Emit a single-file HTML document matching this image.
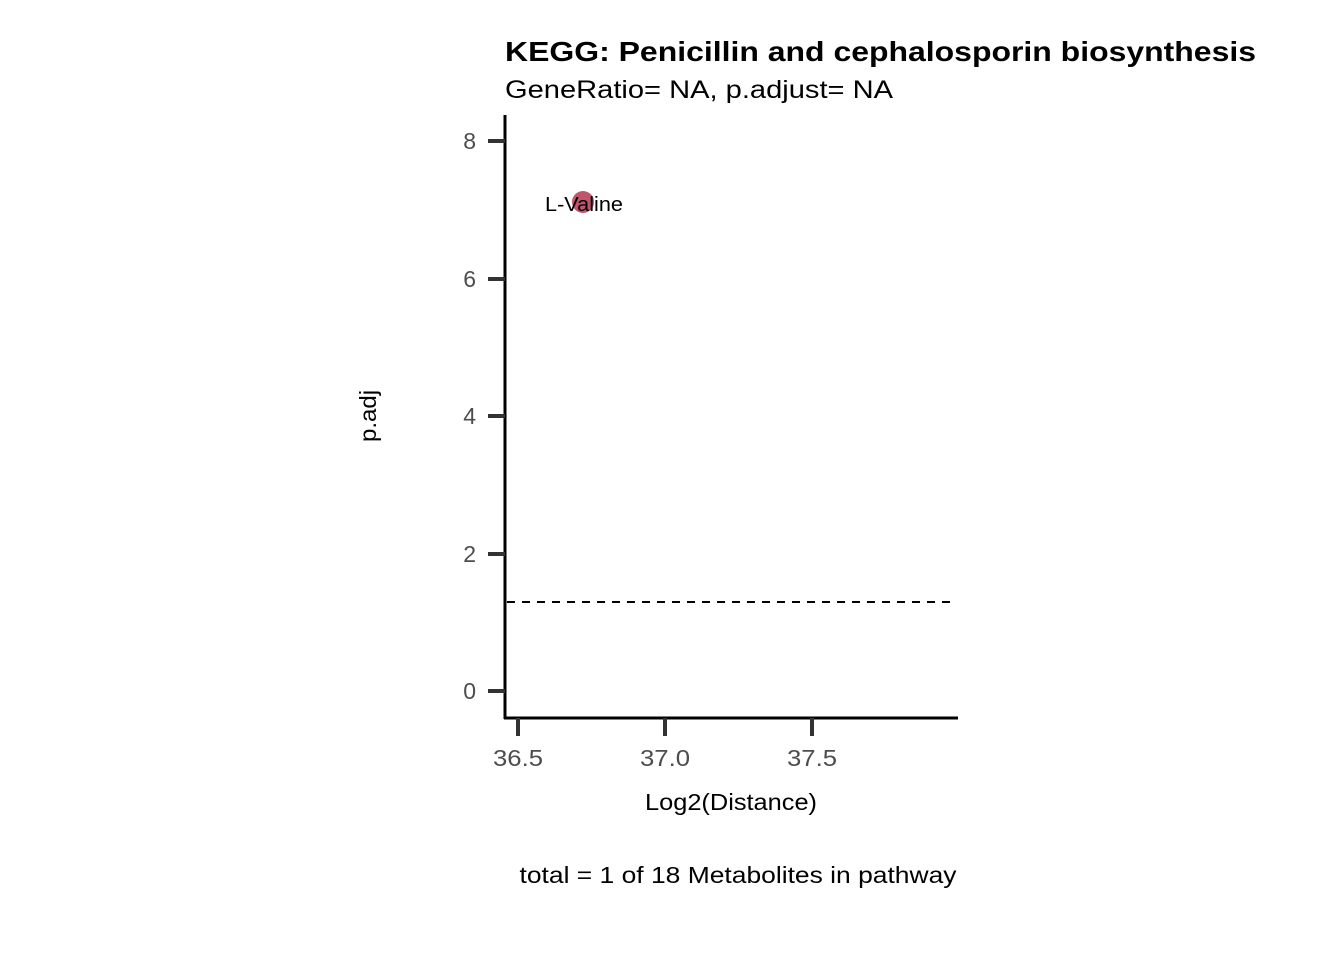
<!DOCTYPE html>
<html><head><meta charset="utf-8"><style>
html,body{margin:0;padding:0;background:#fff;}
svg{display:block;font-family:"Liberation Sans",Arial,sans-serif;}
</style></head><body>
<svg width="1344" height="960" viewBox="0 0 1344 960" xmlns="http://www.w3.org/2000/svg">
<rect width="1344" height="960" fill="#fff"/>
<text x="505" y="61" font-size="28" font-weight="bold" fill="#000" textLength="751" lengthAdjust="spacingAndGlyphs">KEGG: Penicillin and cephalosporin biosynthesis</text>
<text x="505" y="98" font-size="25" fill="#000" textLength="388" lengthAdjust="spacingAndGlyphs">GeneRatio= NA, p.adjust= NA</text>
<line x1="505" y1="115" x2="505" y2="719" stroke="#000" stroke-width="3"/>
<line x1="504" y1="718" x2="958" y2="718" stroke="#000" stroke-width="3"/>
<g stroke="#333" stroke-width="4">
<line x1="488" y1="141" x2="505" y2="141"/>
<line x1="488" y1="279" x2="505" y2="279"/>
<line x1="488" y1="416" x2="505" y2="416"/>
<line x1="488" y1="554" x2="505" y2="554"/>
<line x1="488" y1="691" x2="505" y2="691"/>
<line x1="518" y1="718" x2="518" y2="736"/>
<line x1="665" y1="718" x2="665" y2="736"/>
<line x1="812" y1="718" x2="812" y2="736"/>
</g>
<g font-size="23" fill="#4d4d4d" text-anchor="end">
<text x="476" y="149">8</text>
<text x="476" y="287">6</text>
<text x="476" y="424">4</text>
<text x="476" y="562">2</text>
<text x="476" y="699">0</text>
</g>
<g font-size="23" fill="#4d4d4d" text-anchor="middle">
<text x="518" y="766" textLength="50" lengthAdjust="spacingAndGlyphs">36.5</text>
<text x="665" y="766" textLength="50" lengthAdjust="spacingAndGlyphs">37.0</text>
<text x="812" y="766" textLength="50" lengthAdjust="spacingAndGlyphs">37.5</text>
</g>
<text x="731" y="810" font-size="23" text-anchor="middle" fill="#000" textLength="172" lengthAdjust="spacingAndGlyphs">Log2(Distance)</text>
<text transform="translate(376,416) rotate(-90)" font-size="23" text-anchor="middle" fill="#000" textLength="52" lengthAdjust="spacingAndGlyphs">p.adj</text>
<line x1="507" y1="602" x2="950" y2="602" stroke="#000" stroke-width="2" stroke-dasharray="8,7"/>
<circle cx="583" cy="202" r="11" fill="#c0566b"/>
<text x="584" y="211" font-size="20" text-anchor="middle" fill="#000" textLength="78" lengthAdjust="spacingAndGlyphs">L-Valine</text>
<text x="738" y="883" font-size="23" text-anchor="middle" fill="#000" textLength="437" lengthAdjust="spacingAndGlyphs">total = 1 of 18 Metabolites in pathway</text>
</svg>
</body></html>
